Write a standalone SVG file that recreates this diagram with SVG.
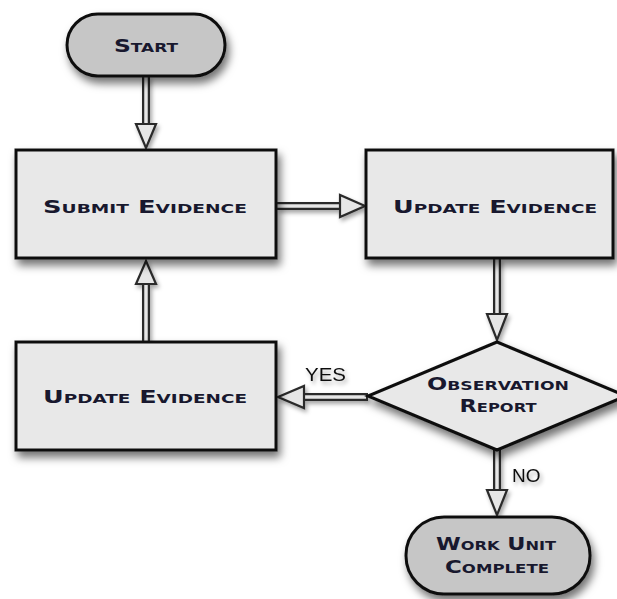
<svg xmlns="http://www.w3.org/2000/svg" width="617" height="599" viewBox="0 0 617 599">
  <defs>
    <filter id="shadow" x="-20%" y="-20%" width="150%" height="160%">
      <feDropShadow dx="3" dy="6" stdDeviation="4" flood-color="#000" flood-opacity="0.55"/>
    </filter>
    <filter id="soft" x="-30%" y="-30%" width="160%" height="160%">
      <feDropShadow dx="2" dy="3" stdDeviation="2" flood-color="#000" flood-opacity="0.35"/>
    </filter>
  </defs>
  <style>
    .box { fill: #e8e8e8; stroke: #111; stroke-width: 3; }
    .term { fill: #c6c6c6; stroke: #111; stroke-width: 3; }
    .lbl { font-family: "DejaVu Sans", "Liberation Sans", sans-serif; font-weight: bold; font-variant: small-caps; font-size: 18px; fill: #18182e; text-anchor: middle; }
    .shaft-o { stroke: #2a2a2a; stroke-width: 8; fill: none; }
    .shaft-i { stroke: #e6e6e6; stroke-width: 3.5; fill: none; }
    .head { fill: #e6e6e6; stroke: #2a2a2a; stroke-width: 2.2; stroke-linejoin: miter; }
    .edge { font-family: "Liberation Sans", Arial, sans-serif; font-size: 19px; fill: #111; }
  </style>

  <rect width="617" height="599" fill="#ffffff"/>

  <!-- connectors -->
  <g id="connectors" filter="url(#soft)">
    <!-- start to submit -->
    <g id="c-start-submit">
      <line class="shaft-o" x1="146" y1="76" x2="146" y2="126"/>
      <line class="shaft-i" x1="146" y1="76" x2="146" y2="127"/>
      <polygon class="head" points="136,124 156,124 146,148"/>
    </g>
    <!-- submit to update (right) -->
    <g id="c-submit-update">
      <line class="shaft-o" x1="277" y1="206" x2="342" y2="206"/>
      <line class="shaft-i" x1="277" y1="206" x2="343" y2="206"/>
      <polygon class="head" points="340,195 340,217 365,206"/>
    </g>
    <!-- update (right) to decision -->
    <g id="c-update-decision">
      <line class="shaft-o" x1="497" y1="259" x2="497" y2="316"/>
      <line class="shaft-i" x1="497" y1="259" x2="497" y2="317"/>
      <polygon class="head" points="487,314 507,314 497,340"/>
    </g>
    <!-- decision to update (left), yes -->
    <g id="c-decision-update">
      <line class="shaft-o" x1="368" y1="397" x2="302" y2="397"/>
      <line class="shaft-i" x1="366" y1="397" x2="301" y2="397"/>
      <polygon class="head" points="304,386 304,408 278,397"/>
    </g>
    <!-- update (left) back to submit -->
    <g id="c-update-submit">
      <line class="shaft-o" x1="146" y1="341" x2="146" y2="283"/>
      <line class="shaft-i" x1="146" y1="341" x2="146" y2="282"/>
      <polygon class="head" points="136,284 156,284 146,261"/>
    </g>
    <!-- decision to complete, no -->
    <g id="c-decision-complete">
      <line class="shaft-o" x1="497" y1="450" x2="497" y2="492"/>
      <line class="shaft-i" x1="497" y1="450" x2="497" y2="493"/>
      <polygon class="head" points="487,490 507,490 497,515"/>
    </g>
    <text class="edge" x="305" y="381" textLength="41" lengthAdjust="spacingAndGlyphs">YES</text>
    <text class="edge" x="512" y="482">NO</text>
  </g>

  <!-- nodes -->
  <g id="start">
    <rect class="term" x="67" y="14" width="158" height="62" rx="31" filter="url(#shadow)"/>
    <text class="lbl" x="146" y="52" textLength="64" lengthAdjust="spacingAndGlyphs">Start</text>
  </g>

  <g id="submit-evidence">
    <rect class="box" x="16" y="150" width="260" height="108" filter="url(#shadow)"/>
    <text class="lbl" x="145" y="213" textLength="204" lengthAdjust="spacingAndGlyphs">Submit Evidence</text>
  </g>

  <g id="update-evidence-right">
    <rect class="box" x="366" y="150" width="247" height="108" filter="url(#shadow)"/>
    <text class="lbl" x="495" y="213" textLength="204" lengthAdjust="spacingAndGlyphs">Update Evidence</text>
  </g>

  <g id="update-evidence-left">
    <rect class="box" x="16" y="342" width="260" height="108" filter="url(#shadow)"/>
    <text class="lbl" x="145" y="403" textLength="204" lengthAdjust="spacingAndGlyphs">Update Evidence</text>
  </g>

  <g id="observation-report">
    <polygon class="box" points="497,342 626,396 497,450 368,396" filter="url(#shadow)"/>
    <text class="lbl" x="498" y="390" textLength="142" lengthAdjust="spacingAndGlyphs">Observation</text>
    <text class="lbl" x="498" y="412" textLength="77" lengthAdjust="spacingAndGlyphs">Report</text>
  </g>

  <g id="work-unit-complete">
    <rect class="term" x="406" y="517" width="184" height="77" rx="38" filter="url(#shadow)"/>
    <text class="lbl" x="496" y="550" textLength="120" lengthAdjust="spacingAndGlyphs">Work Unit</text>
    <text class="lbl" x="497" y="573" textLength="104" lengthAdjust="spacingAndGlyphs">Complete</text>
  </g>
</svg>
